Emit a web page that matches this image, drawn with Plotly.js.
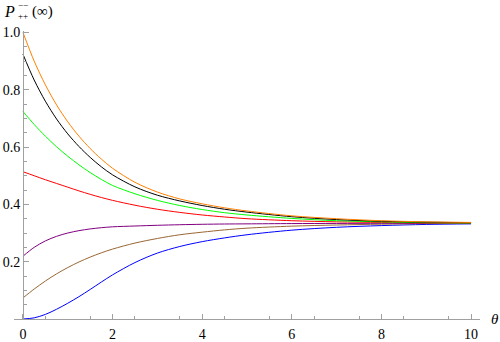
<!DOCTYPE html>
<html>
<head>
<meta charset="utf-8">
<script src="https://cdn.plot.ly/plotly-3.0.1.min.js"></script>
<style>
html,body{margin:0;padding:0;background:#fff;}
#chart{width:500px;height:342px;}
#chart svg text{font-family:"Liberation Serif","DejaVu Serif",serif !important;}
</style>
</head>
<body>
<div id="chart"></div>
<script>
const theta = [0,0.25,0.5,0.75,1,1.25,1.5,1.75,2,2.5,3,3.5,4,4.5,5,6,7,8,9,10];
const orange = [1.0,0.9,0.817,0.747,0.688,0.638,0.595,0.558,0.526,0.477,0.443,0.419,0.402,0.388,0.377,0.36,0.35,0.343,0.339,0.337];
const black  = [0.924,0.834,0.76,0.698,0.646,0.602,0.564,0.531,0.503,0.461,0.432,0.412,0.396,0.383,0.373,0.357,0.347,0.341,0.338,0.336];
const green  = [0.724,0.679,0.638,0.601,0.568,0.538,0.511,0.487,0.466,0.437,0.414,0.396,0.382,0.371,0.363,0.351,0.343,0.339,0.336,0.335];
const red    = [0.514,0.5,0.486,0.473,0.46,0.447,0.435,0.424,0.414,0.397,0.383,0.372,0.363,0.356,0.35,0.343,0.339,0.337,0.335,0.335];
const purple = [0.219,0.25,0.2725,0.2885,0.3,0.3083,0.3143,0.3186,0.3217,0.3245,0.327,0.329,0.3305,0.3315,0.332,0.333,0.3335,0.334,0.334,0.334];
const brown  = [0.0735,0.1045,0.1325,0.1575,0.1795,0.199,0.216,0.231,0.244,0.265,0.281,0.294,0.303,0.311,0.317,0.324,0.328,0.331,0.333,0.334];
const blue   = [0,0.004,0.016,0.034,0.055,0.078,0.103,0.129,0.154,0.197,0.23,0.253,0.27,0.283,0.294,0.31,0.32,0.326,0.33,0.332];

const xTickVals = [0,2,4,6,8,10];
const xTickText = ["0","2","4","6","8","10"];
const yTickVals = [0.2,0.4,0.6,0.8,1.0];
const yTickText = ["0.2","0.4","0.6","0.8","1.0"];

const series = [
  {y: blue, color: 'rgb(0,0,255)'},
  {y: brown, color: 'rgb(153,102,51)'},
  {y: purple, color: 'rgb(128,0,128)'},
  {y: red, color: 'rgb(255,0,0)'},
  {y: green, color: 'rgb(0,255,0)'},
  {y: black, color: 'rgb(0,0,0)'},
  {y: orange, color: 'rgb(255,128,0)'}
];
const traces = series.map(s => ({
  x: theta, y: s.y, type: 'scatter', mode: 'lines',
  line: {color: s.color, width: 1, shape: 'spline', smoothing: 0.9},
  hoverinfo: 'skip', showlegend: false
}));

const xMinor = []; for (let v = 0.5; v < 10; v += 1) xMinor.push(v);
const yMinor = []; for (let k = 1; k < 20; k++) { if (k % 4 !== 0) yMinor.push(k * 0.05); }

const axisCol = '#a0a0a0';
const fam = 'Liberation Serif, DejaVu Serif, serif';
const font = {family: fam, size: 14, color: '#000'};

const layout = {
  width: 500, height: 342,
  margin: {l: 14, r: 20, t: 31, b: 23, pad: 0},
  paper_bgcolor: '#fff', plot_bgcolor: '#fff',
  font: font,
  showlegend: false,
  xaxis: {
    range: [-0.2, 10.2], showgrid: false, zeroline: false,
    showline: true, linecolor: axisCol, linewidth: 1,
    tickmode: 'array', tickvals: xTickVals, ticktext: xTickText,
    ticks: 'inside', ticklen: 5, tickcolor: axisCol, tickwidth: 1,
    minor: {tickmode: 'array', tickvals: xMinor, ticks: 'inside', ticklen: 3, tickcolor: axisCol, tickwidth: 1, showgrid: false},
    tickfont: {family: fam, size: 14, color: '#000'}, ticklabelstandoff: 2, anchor: 'y', fixedrange: true
  },
  yaxis: {
    range: [0, 1.005], showgrid: false, zeroline: false,
    anchor: 'free', position: 0.2 / 10.4, side: 'left',
    showline: true, linecolor: axisCol, linewidth: 1,
    tickmode: 'array', tickvals: yTickVals, ticktext: yTickText,
    ticks: 'inside', ticklen: 5, tickcolor: axisCol, tickwidth: 1,
    minor: {tickmode: 'array', tickvals: yMinor, ticks: 'inside', ticklen: 3, tickcolor: axisCol, tickwidth: 1, showgrid: false},
    tickfont: {family: fam, size: 14, color: '#000'}, fixedrange: true
  },
  annotations: [
    {text: '<i>P</i>', xref: 'paper', yref: 'paper', x: (2 - 14) / 466, y: (319 - 11) / 288, xanchor: 'left', yanchor: 'middle', showarrow: false, font: {family: fam, size: 16, color: '#000'}},
    {text: '−−', xref: 'paper', yref: 'paper', x: (16 - 14) / 466, y: (319 - 5.5) / 288, xanchor: 'left', yanchor: 'middle', showarrow: false, font: {family: fam, size: 9, color: '#000'}},
    {text: '++', xref: 'paper', yref: 'paper', x: (16 - 14) / 466, y: (319 - 15.5) / 288, xanchor: 'left', yanchor: 'middle', showarrow: false, font: {family: fam, size: 9, color: '#000'}},
    {text: '(∞)', xref: 'paper', yref: 'paper', x: (30 - 14) / 466, y: (319 - 11) / 288, xanchor: 'left', yanchor: 'middle', showarrow: false, font: {family: fam, size: 15, color: '#000'}},
    {text: '<i>θ</i>', xref: 'paper', yref: 'paper', x: (489 - 14) / 466, y: (319 - 319) / 288, xanchor: 'left', yanchor: 'middle', showarrow: false, font: {family: fam, size: 15, color: '#000'}}
  ]
};

Plotly.newPlot('chart', traces, layout, {displayModeBar: false, staticPlot: true});
</script>
</body>
</html>
